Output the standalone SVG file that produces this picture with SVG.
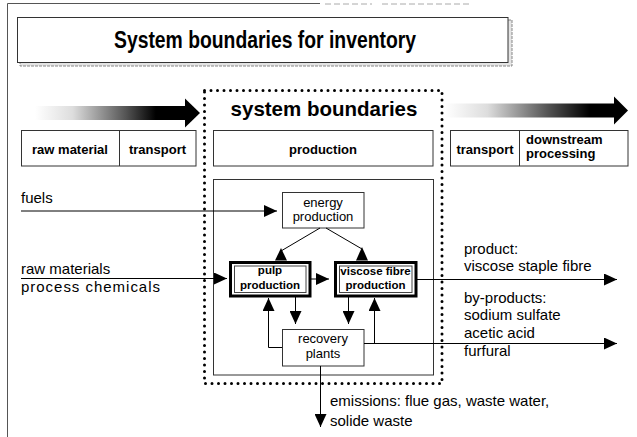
<svg xmlns="http://www.w3.org/2000/svg" width="637" height="437" viewBox="0 0 637 437">
<style>
  text { font-family: "Liberation Sans", Arial, sans-serif; fill: #000; }
  .lbl { font-size: 15px; }
  .hdr { font-size: 13px; font-weight: bold; }
  .node { font-size: 13px; text-anchor: middle; }
  .bnode { font-size: 11.5px; font-weight: bold; text-anchor: middle; }
  .box { fill: #fff; stroke: #333; stroke-width: 1; }
  .line { fill: none; stroke: #000; stroke-width: 1; }
  .head { fill: #000; }
</style>
<defs>
  <linearGradient id="gL" x1="35" y1="0" x2="186" y2="0" gradientUnits="userSpaceOnUse">
    <stop offset="0" stop-color="#fff"/>
    <stop offset="0.25" stop-color="#ddd"/>
    <stop offset="0.6" stop-color="#555"/>
    <stop offset="0.8" stop-color="#000"/>
  </linearGradient>
  <linearGradient id="gR" x1="445" y1="0" x2="615" y2="0" gradientUnits="userSpaceOnUse">
    <stop offset="0" stop-color="#fff"/>
    <stop offset="0.25" stop-color="#ddd"/>
    <stop offset="0.6" stop-color="#555"/>
    <stop offset="0.85" stop-color="#000"/>
  </linearGradient>
  <marker id="arr" markerUnits="userSpaceOnUse" markerWidth="13" markerHeight="12" refX="13" refY="6" orient="auto">
    <path d="M0,0 L13,6 L0,12 z" fill="#000"/>
  </marker>
</defs>
<rect width="637" height="437" fill="#fff"/>

<!-- outer frame -->
<g id="frame">
  <path d="M7.5,437 V3.5 H320" fill="none" stroke="#555" stroke-width="1"/>
  <path d="M325,4 H372 M382,4 H470" fill="none" stroke="#aaa" stroke-width="1" stroke-dasharray="6 3"/>
</g>

<!-- title -->
<g id="title">
  <rect x="20" y="20" width="492" height="46" fill="#e4e4e4" stroke="#888" stroke-width="1" stroke-dasharray="3 1"/>
  <rect x="17.5" y="17.5" width="490.5" height="45" fill="#fff" stroke="#333" stroke-width="1"/>
  <text x="265" y="47.5" font-size="23" font-weight="bold" text-anchor="middle" textLength="302" lengthAdjust="spacingAndGlyphs">System boundaries for inventory</text>
</g>

<!-- gradient arrows -->
<g id="flow-arrows">
  <rect x="35" y="106" width="151" height="14" fill="url(#gL)"/>
  <polygon points="185,98.5 200,113 185,127.5" fill="#000"/>
  <rect x="445" y="103.5" width="171" height="14" fill="url(#gR)"/>
  <polygon points="614,96.5 628,110.5 614,124.5" fill="#000"/>
</g>

<!-- system boundary -->
<g id="system-boundary">
  <rect x="204.5" y="90.5" width="237.5" height="293" fill="none" stroke="#000" stroke-width="3" stroke-linecap="round" stroke-dasharray="0 6.5"/>
  <text x="324" y="116" font-size="20.5" font-weight="bold" text-anchor="middle">system boundaries</text>
</g>

<!-- life-cycle stage boxes -->
<g id="stage-left">
  <rect class="box" x="21.5" y="130.5" width="174.5" height="35.5"/>
  <line x1="119.5" y1="130.5" x2="119.5" y2="166" stroke="#333"/>
  <text class="hdr" x="70" y="154" text-anchor="middle">raw material</text>
  <text class="hdr" x="157.5" y="154" text-anchor="middle">transport</text>
</g>
<g id="stage-production">
  <rect class="box" x="213.5" y="130.5" width="219.5" height="35.5"/>
  <text class="hdr" x="323" y="154" text-anchor="middle" font-size="12.5">production</text>
</g>
<g id="stage-right">
  <rect class="box" x="450.5" y="130.5" width="177.5" height="35.5"/>
  <line x1="519.5" y1="130.5" x2="519.5" y2="166" stroke="#333"/>
  <text class="hdr" x="485" y="154" text-anchor="middle">transport</text>
  <text class="hdr" x="526" y="143.5">downstream</text>
  <text class="hdr" x="526" y="158">processing</text>
</g>

<!-- inner production area -->
<g id="production-area">
  <rect x="213.5" y="179.5" width="220" height="195.5" fill="none" stroke="#333" stroke-width="1"/>
</g>

<!-- nodes -->
<g id="energy-production">
  <rect class="box" x="282.5" y="192.5" width="81.5" height="35.5" stroke="#555"/>
  <text class="node" x="323" y="206.5">energy</text>
  <text class="node" x="323" y="220.5">production</text>
</g>
<g id="pulp-production">
  <rect x="230.5" y="262.5" width="79.5" height="33.5" fill="#fff" stroke="#000" stroke-width="3"/>
  <rect x="234.5" y="266" width="71.5" height="26.5" fill="none" stroke="#444" stroke-width="1"/>
  <text class="bnode" x="270" y="274">pulp</text>
  <text class="bnode" x="270" y="288.5">production</text>
</g>
<g id="viscose-fibre-production">
  <rect x="335.5" y="262.5" width="80.5" height="33.5" fill="#fff" stroke="#000" stroke-width="3"/>
  <rect x="339.5" y="266" width="72.5" height="26.5" fill="none" stroke="#444" stroke-width="1"/>
  <text class="bnode" x="375.5" y="274.5">viscose fibre</text>
  <text class="bnode" x="375.5" y="288.5">production</text>
</g>
<g id="recovery-plants">
  <rect class="box" x="282.5" y="329.5" width="81.5" height="36.5" stroke="#555"/>
  <text class="node" x="323" y="343">recovery</text>
  <text class="node" x="323" y="358">plants</text>
</g>

<!-- connectors -->
<g id="connectors">
  <path class="line" d="M21,211 H277" marker-end="url(#arr)"/>
  <path class="line" d="M21,278.5 H227" marker-end="url(#arr)"/>
  <path class="line" d="M311,279 H329" marker-end="url(#arr)"/>
  <path class="line" d="M320,228 L281,251"/>
  <polygon class="head" points="281,248 275,260.5 287,260.5"/>
  <path class="line" d="M326,228 L362,249"/>
  <polygon class="head" points="362,247 356,260.5 368,260.5"/>
  <path class="line" d="M417,279.5 H617" marker-end="url(#arr)"/>
  <path class="line" d="M364,343.5 H617" marker-end="url(#arr)"/>
  <path class="line" d="M282,347.5 H268.5 V298" marker-end="url(#arr)"/>
  <path class="line" d="M295.5,297 V324" marker-end="url(#arr)"/>
  <path class="line" d="M348.5,297 V324" marker-end="url(#arr)"/>
  <path class="line" d="M374.5,343.5 V298" marker-end="url(#arr)"/>
  <path class="line" d="M320.5,366 V427" marker-end="url(#arr)"/>
</g>

<!-- labels -->
<g id="labels">
  <text class="lbl" x="21" y="203">fuels</text>
  <text class="lbl" x="21" y="273.5" font-size="16">raw materials</text>
  <text class="lbl" x="21" y="291.5" font-size="16" textLength="139" lengthAdjust="spacing">process chemicals</text>
  <text class="lbl" x="464" y="254">product:</text>
  <text class="lbl" x="464" y="271">viscose staple fibre</text>
  <text class="lbl" x="464" y="303">by-products:</text>
  <text class="lbl" x="464" y="320">sodium sulfate</text>
  <text class="lbl" x="464" y="338">acetic acid</text>
  <text class="lbl" x="464" y="356">furfural</text>
  <text class="lbl" x="330" y="406">emissions: flue gas, waste water,</text>
  <text class="lbl" x="330" y="426">solide waste</text>
</g>
</svg>
